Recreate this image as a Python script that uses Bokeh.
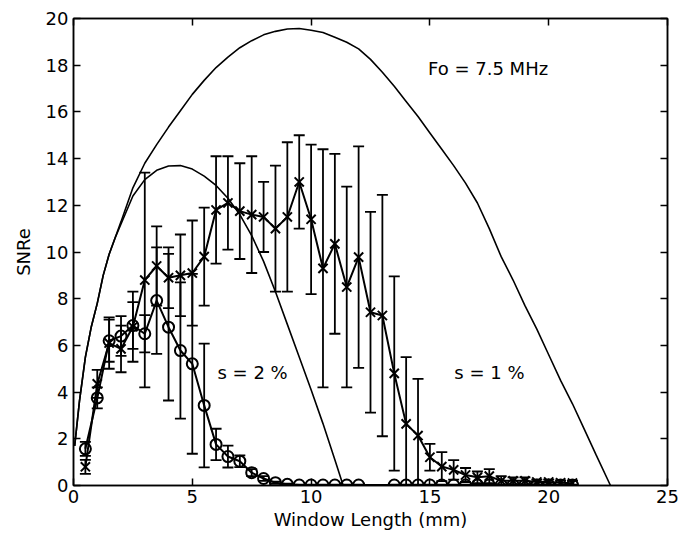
from bokeh.plotting import figure
from bokeh.models import (Range1d, LinearAxis, Whisker, ColumnDataSource, TeeHead,
                          Label, FixedTicker)
from bokeh.embed import file_html
from bokeh.resources import INLINE

# ---------------- data ----------------
# window lengths (mm) of the measured points
window_mm = [0.5, 1.0, 1.5, 2.0, 2.5, 3.0, 3.5, 4.0, 4.5, 5.0, 5.5, 6.0, 6.5, 7.0,
             7.5, 8.0, 8.5, 9.0, 9.5, 10.0, 10.5, 11.0, 11.5, 12.0, 12.5, 13.0, 13.5,
             14.0, 14.5, 15.0, 15.5, 16.0, 16.5, 17.0, 17.5, 18.0, 18.5, 19.0, 19.5,
             20.0, 20.5, 21.0]

# s = 1 % (crosses)
snr_s1 = [0.8, 4.35, 6.1, 5.85, 6.8, 8.8, 9.4, 8.9, 9.0, 9.1, 9.8, 11.8, 12.1, 11.75,
          11.6, 11.5, 11.0, 11.5, 13.0, 11.4, 9.3, 10.35, 8.5, 9.78, 7.42, 7.28, 4.8,
          2.64, 2.14, 1.21, 0.81, 0.67, 0.45, 0.35, 0.4, 0.2, 0.2, 0.2, 0.15,
          0.15, 0.12, 0.1]
err_s1 = [0.3, 0.6, 1.1, 1.0, 1.5, 4.6, 1.7, 1.3, 1.75, 2.25, 2.1, 2.3, 2.0, 2.05,
          2.5, 1.5, 2.7, 3.2, 2.0, 3.2, 5.1, 3.85, 4.3, 4.74, 4.3, 5.17, 4.16,
          2.86, 2.43, 0.57, 0.62, 0.42, 0.3, 0.25, 0.3, 0.2, 0.15, 0.15, 0.1,
          0.1, 0.1, 0.1]

# s = 2 % (circles) -- no circles at 12.5 and 13.0 mm
window_mm_s2 = [0.5, 1.0, 1.5, 2.0, 2.5, 3.0, 3.5, 4.0, 4.5, 5.0, 5.5, 6.0, 6.5, 7.0,
                7.5, 8.0, 8.5, 9.0, 9.5, 10.0, 10.5, 11.0, 11.5, 12.0, 13.5, 14.0,
                14.5, 15.0, 15.5, 16.0, 16.5, 17.0, 17.5, 18.0, 18.5, 19.0, 19.5,
                20.0, 20.5, 21.0]
snr_s2 = [1.57, 3.75, 6.2, 6.4, 6.85, 6.5, 7.92, 6.78, 5.78, 5.21, 3.43, 1.76, 1.24,
          1.04, 0.55, 0.3, 0.12, 0.05, 0.02, 0.02, 0.02, 0.02, 0.02, 0.02, 0.02,
          0.02, 0.02, 0.02, 0.02, 0.02, 0.02, 0.02, 0.02, 0.02, 0.02, 0.02, 0.02,
          0.02, 0.02, 0.02]
err_s2 = [0.3, 0.45, 0.9, 0.85, 1.0, 0.8, 2.28, 3.14, 2.92, 3.85, 2.65, 0.67, 0.47,
          0.25, 0.15, 0.1, 0.05, 0.03, 0.02, 0.02, 0.02, 0.02, 0.02, 0.02, 0.02,
          0.02, 0.02, 0.02, 0.02, 0.02, 0.02, 0.02, 0.02, 0.02, 0.02, 0.02, 0.02,
          0.02, 0.02, 0.02]

# theoretical curves
theory_s2_x = [0.05, 0.25, 0.5, 0.75, 1.0, 1.25, 1.5, 1.75, 2.0, 2.5, 3.0, 3.5, 4.0,
               4.5, 5.0, 5.5, 6.0, 6.5, 7.0, 7.5, 8.0, 8.5, 9.0, 9.5, 10.0, 10.5,
               11.0, 11.35]
theory_s2_y = [1.7, 3.6, 5.5, 6.8, 7.8, 9.0, 9.9, 10.6, 11.2, 12.4, 13.1, 13.5, 13.68,
               13.7, 13.55, 13.25, 12.85, 12.3, 11.6, 10.7, 9.6, 8.3, 6.9, 5.5, 4.1,
               2.65, 1.1, 0.0]

theory_s1_x = [0.05, 0.25, 0.5, 0.75, 1.0, 1.25, 1.5, 1.75, 2.0, 2.5, 3.0, 3.5, 4.0,
               4.5, 5.0, 5.5, 6.0, 6.5, 7.0, 7.5, 8.0, 8.5, 9.0, 9.5, 10.0, 10.5,
               11.0, 11.5, 12.0, 12.5, 13.0, 13.5, 14.0, 14.5, 15.0, 15.5, 16.0, 16.5,
               17.0, 17.5, 18.0, 18.5, 19.0, 19.5, 20.0, 20.5, 21.0, 21.5, 22.0, 22.6]
theory_s1_y = [1.7, 3.6, 5.5, 6.8, 7.8, 9.0, 9.9, 10.6, 11.3, 12.75, 13.8, 14.6, 15.35,
               16.05, 16.75, 17.35, 17.9, 18.35, 18.75, 19.05, 19.3, 19.45, 19.55, 19.57,
               19.5, 19.4, 19.2, 18.98, 18.7, 18.25, 17.7, 17.1, 16.45, 15.8, 15.1,
               14.4, 13.7, 12.95, 12.1, 11.0, 9.8, 8.8, 7.7, 6.7, 5.6, 4.5, 3.5, 2.4,
               1.3, 0.0]

x_ticks = [0, 5, 10, 15, 20, 25]
y_ticks = [0, 2, 4, 6, 8, 10, 12, 14, 16, 18, 20]

FONT = "DejaVu Sans"
FS = "18px"

# ---------------- figure ----------------
p = figure(width=689, height=537, x_range=Range1d(0, 25), y_range=Range1d(0, 20),
           output_backend="svg", toolbar_location=None,
           min_border_left=73, min_border_right=22, min_border_top=18,
           min_border_bottom=52)
p.background_fill_color = "white"
p.border_fill_color = "white"
p.outline_line_color = "black"
p.outline_line_width = 1.5
p.xgrid.visible = False
p.ygrid.visible = False

for ax in (p.xaxis[0], p.yaxis[0]):
    ax.axis_line_color = "black"
    ax.axis_line_width = 1.5
    ax.major_tick_in = 7
    ax.major_tick_out = 0
    ax.major_tick_line_width = 1.5
    ax.minor_tick_line_color = None
    ax.major_label_text_font = FONT
    ax.major_label_text_font_size = FS
    ax.major_label_text_color = "black"
    ax.axis_label_text_font = FONT
    ax.axis_label_text_font_size = FS
    ax.axis_label_text_font_style = "normal"
    ax.axis_label_text_color = "black"

p.xaxis[0].ticker = FixedTicker(ticks=x_ticks)
p.yaxis[0].ticker = FixedTicker(ticks=y_ticks)
p.xaxis[0].axis_label = "Window Length (mm)"
p.yaxis[0].axis_label = "SNRe"
p.xaxis[0].major_label_standoff = 4
p.xaxis[0].axis_label_standoff = 3
p.yaxis[0].major_label_standoff = 5
p.yaxis[0].axis_label_standoff = 9

# mirrored ticks on top and right (labels not drawn)
top = LinearAxis(ticker=FixedTicker(ticks=x_ticks), major_label_text_font_size="1px",
                 major_label_text_color=None,
                 major_tick_in=7, major_tick_out=0, major_tick_line_width=1.5,
                 minor_tick_line_color=None, axis_line_color="black",
                 axis_line_width=1.5, major_label_standoff=0)
right = LinearAxis(ticker=FixedTicker(ticks=y_ticks), major_label_text_font_size="1px",
                   major_label_text_color=None,
                   major_tick_in=7, major_tick_out=0, major_tick_line_width=1.5,
                   minor_tick_line_color=None, axis_line_color="black",
                   axis_line_width=1.5, major_label_standoff=0)
p.add_layout(top, "above")
p.add_layout(right, "right")

# theory curves
p.line(theory_s1_x, theory_s1_y, line_color="black", line_width=1.6)
p.line(theory_s2_x, theory_s2_y, line_color="black", line_width=1.6)

# error bars
src1 = ColumnDataSource(dict(
    x=window_mm, y=snr_s1,
    upper=[v + e for v, e in zip(snr_s1, err_s1)],
    lower=[max(v - e, 0.0) for v, e in zip(snr_s1, err_s1)]))
src2 = ColumnDataSource(dict(
    x=window_mm_s2, y=snr_s2,
    upper=[v + e for v, e in zip(snr_s2, err_s2)],
    lower=[max(v - e, 0.0) for v, e in zip(snr_s2, err_s2)]))

for src in (src1, src2):
    w = Whisker(source=src, base="x", upper="upper", lower="lower",
                line_color="black", line_width=1.8,
                upper_head=TeeHead(size=11, line_width=1.8, line_color="black"),
                lower_head=TeeHead(size=11, line_width=1.8, line_color="black"))
    p.add_layout(w)

# data lines + markers
p.line("x", "y", source=src1, line_color="black", line_width=2)
p.scatter("x", "y", source=src1, marker="x", size=13, line_color="black",
          line_width=2)
p.line("x", "y", source=src2, line_color="black", line_width=2)
p.scatter("x", "y", source=src2, marker="circle", size=11, line_color="black",
          fill_color=None, line_width=2)

# annotations
p.add_layout(Label(x=14.92, y=17.86, text="Fo = 7.5 MHz", text_font=FONT,
                   text_font_size=FS, text_color="black", text_baseline="alphabetic"))
p.add_layout(Label(x=6.06, y=4.85, text="s = 2 %", text_font=FONT,
                   text_font_size=FS, text_color="black", text_baseline="alphabetic"))
p.add_layout(Label(x=16.03, y=4.85, text="s = 1 %", text_font=FONT,
                   text_font_size=FS, text_color="black", text_baseline="alphabetic"))

open("out.html", "w").write(file_html(p, INLINE))
